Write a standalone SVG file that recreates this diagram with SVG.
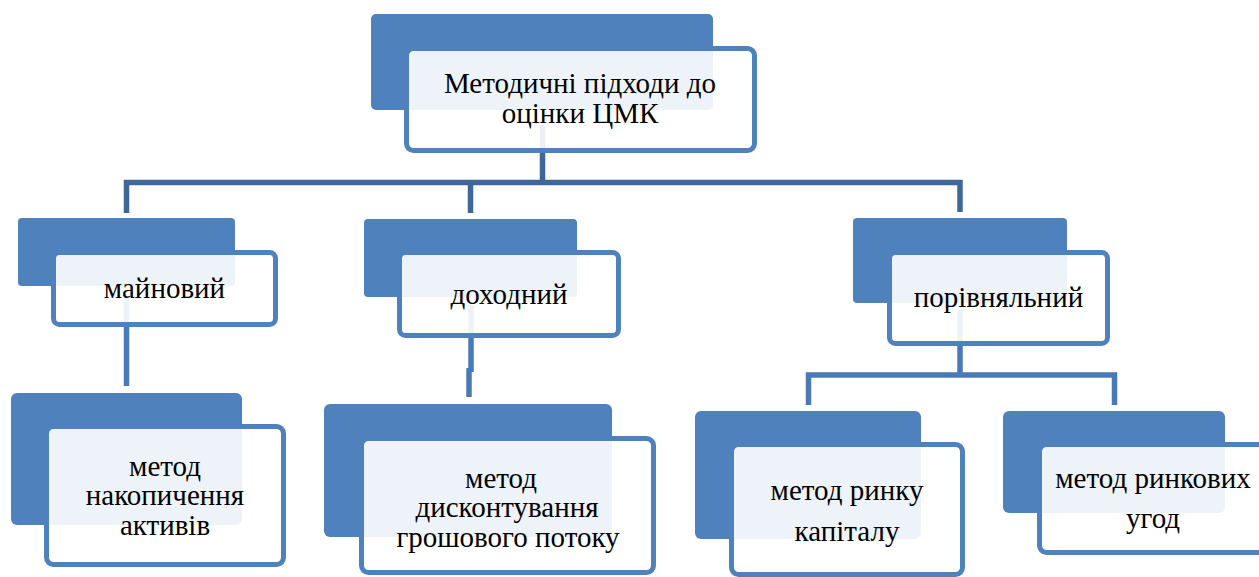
<svg xmlns="http://www.w3.org/2000/svg" width="1259" height="577" viewBox="0 0 1259 577">
<style>
.back{fill:#4F81BD}
.front{fill:#FFFFFF;fill-opacity:0.9;stroke:#4F81BD;stroke-width:5}
.t{font-family:"Liberation Serif","Times New Roman",serif;font-size:29px;fill:#000;text-anchor:middle}
.c1{fill:none;stroke:#3E6798;stroke-width:5.5;stroke-linejoin:miter}
.c2{fill:none;stroke:#4A7AB5;stroke-width:5.5;stroke-linejoin:miter}
</style>
<rect width="1259" height="577" fill="#FFFFFF"/>
<g id="connectors">
<path class="c1" d="M542.5,125 V182.5"/>
<path class="c1" d="M126.5,213 V182.5 H960 V212"/>
<path class="c1" d="M470.5,182.5 V213"/>
<path class="c2" d="M126.5,298 V386"/>
<path class="c2" d="M471,305 V372"/>
<path class="c2" d="M469,368 V397"/>
<path class="c2" d="M960,310 V375"/>
<path class="c2" d="M808.5,405 V375 H1114.5 V405"/>
</g>
<g id="node-root">
<rect class="back" x="371" y="14" width="342" height="96" rx="5"/>
<rect class="front" x="406.5" y="48.5" width="348" height="102" rx="7"/>
<text class="t" x="580" y="93">Методичні підходи до</text>
<text class="t" x="580" y="123">оцінки ЦМК</text>
</g>
<g id="node-mainovyi">
<rect class="back" x="18" y="218" width="217" height="68" rx="4"/>
<rect class="front" x="53.5" y="252.5" width="222" height="72" rx="6"/>
<text class="t" x="164.5" y="298">майновий</text>
</g>
<g id="node-dokhodnyi">
<rect class="back" x="364" y="219" width="213" height="78" rx="4"/>
<rect class="front" x="399.5" y="252.5" width="219" height="83" rx="6"/>
<text class="t" x="509" y="304">доходний</text>
</g>
<g id="node-porivnialnyi">
<rect class="back" x="853" y="218" width="214" height="85" rx="4"/>
<rect class="front" x="889.5" y="252.5" width="218" height="91" rx="6"/>
<text class="t" x="998.5" y="307">порівняльний</text>
</g>
<g id="node-nakopychennia">
<rect class="back" x="11" y="393" width="231" height="132" rx="6"/>
<rect class="front" x="46.5" y="426.5" width="237" height="138" rx="7"/>
<text class="t" x="165" y="476">метод</text>
<text class="t" x="165" y="505">накопичення</text>
<text class="t" x="165" y="535">активів</text>
</g>
<g id="node-dyskontuvannia">
<rect class="back" x="324" y="404" width="288" height="133" rx="6"/>
<rect class="front" x="361.5" y="438.5" width="292" height="134" rx="7"/>
<text class="t" x="501" y="488">метод</text>
<text class="t" x="507" y="517">дисконтування</text>
<text class="t" x="508" y="547">грошового потоку</text>
</g>
<g id="node-rynku-kapitalu">
<rect class="back" x="695" y="411" width="226" height="128" rx="6"/>
<rect class="front" x="731.5" y="444.5" width="231" height="130" rx="7"/>
<text class="t" x="847" y="500">метод ринку</text>
<text class="t" x="847" y="541">капіталу</text>
</g>
<g id="node-rynkovykh-uhod">
<rect class="back" x="1003" y="411" width="222" height="102" rx="6"/>
<rect class="front" x="1039.5" y="444.5" width="229" height="108" rx="7"/>
<text class="t" x="1153" y="488">метод ринкових</text>
<text class="t" x="1153" y="528">угод</text>
</g>
</svg>
